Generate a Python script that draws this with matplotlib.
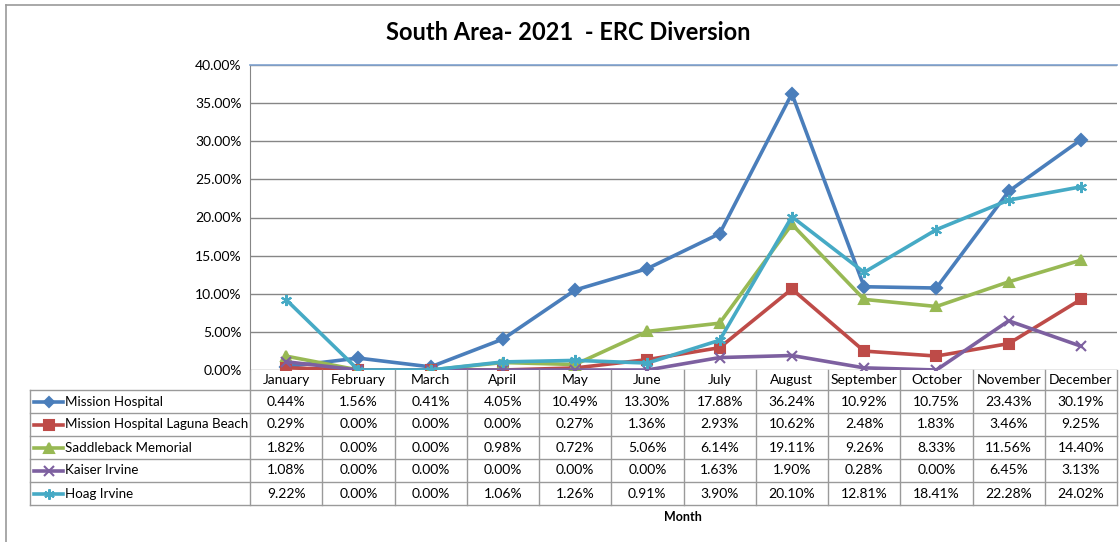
import matplotlib
matplotlib.use("Agg")
import matplotlib.pyplot as plt
from matplotlib.transforms import blended_transform_factory
from matplotlib.lines import Line2D

plt.rcParams['font.family'] = ['Lato', 'DejaVu Sans']

months = ["January", "February", "March", "April", "May", "June", "July",
          "August", "September", "October", "November", "December"]
series_names = ["Mission Hospital", "Mission Hospital Laguna Beach",
                "Saddleback Memorial", "Kaiser Irvine", "Hoag Irvine"]
mission = [0.44, 1.56, 0.41, 4.05, 10.49, 13.30, 17.88, 36.24, 10.92, 10.75, 23.43, 30.19]
laguna = [0.29, 0.00, 0.00, 0.00, 0.27, 1.36, 2.93, 10.62, 2.48, 1.83, 3.46, 9.25]
saddleback = [1.82, 0.00, 0.00, 0.98, 0.72, 5.06, 6.14, 19.11, 9.26, 8.33, 11.56, 14.40]
kaiser = [1.08, 0.00, 0.00, 0.00, 0.00, 0.00, 1.63, 1.90, 0.28, 0.00, 6.45, 3.13]
hoag = [9.22, 0.00, 0.00, 1.06, 1.26, 0.91, 3.90, 20.10, 12.81, 18.41, 22.28, 24.02]
yticks = [0, 5, 10, 15, 20, 25, 30, 35, 40]

values = [mission, laguna, saddleback, kaiser, hoag]
colors = ["#4A7EBB", "#BE4B48", "#98B954", "#7D60A0", "#46AAC5"]
markers = ["D", "s", "^", "x", (6, 2, 0)]
msizes = [6, 7, 7, 7, 8]

W, H = 1120, 542
fig = plt.figure(figsize=(W / 100, H / 100), dpi=100)

def fx(px):
    return px / W

def fy(py):
    return 1 - py / H

L, R, T, B = 250, 1117, 65, 370
ax = fig.add_axes([fx(L), fy(B), fx(R) - fx(L), fy(T) - fy(B)])
ax.set_xlim(-0.5, len(months) - 0.5)
ax.set_ylim(0, 40)

for v, c, m, ms in zip(values, colors, markers, msizes):
    ax.plot(range(len(months)), v, color=c, lw=2.6, marker=m, ms=ms,
            mec=c, mfc=c, mew=1.5, solid_joinstyle='round', zorder=3)

ax.set_yticks(yticks)
ax.set_yticklabels([f"{t:.2f}%" for t in yticks], fontsize=10)
ax.yaxis.grid(True, color="#868686", lw=1)
ax.set_axisbelow(True)
ax.set_xticks([])
for s in ["right", "bottom"]:
    ax.spines[s].set_visible(False)
ax.spines["top"].set_color("#7FA2D0")
ax.spines["top"].set_linewidth(1.2)
ax.spines["left"].set_color("#868686")
ax.tick_params(axis='y', length=0, pad=6, colors="#000000")

# Table
bt = blended_transform_factory(ax.transData, fig.transFigure)
ft = fig.transFigure
gray = "#9A9A9A"
hdr_top, hdr_bot = 370, 390
row_h = 23
n = len(series_names)
tbl_bot = hdr_bot + n * row_h
leg_left = 30

for i in range(len(months) + 1):
    x = i - 0.5
    fig.add_artist(Line2D([x, x], [fy(hdr_top), fy(tbl_bot)], transform=bt,
                          color=gray, lw=1))
for r in range(n + 1):
    y = fy(hdr_bot + r * row_h)
    fig.add_artist(Line2D([fx(leg_left), fx(R)], [y, y], transform=ft,
                          color=gray, lw=1))
fig.add_artist(Line2D([fx(leg_left), fx(leg_left)], [fy(hdr_bot), fy(tbl_bot)],
                      transform=ft, color=gray, lw=1))

for i, mth in enumerate(months):
    fig.text(i, fy((hdr_top + hdr_bot) / 2), mth, transform=bt, ha='center',
             va='center', fontsize=10)

for r, (name, v, c, m, ms) in enumerate(zip(series_names, values, colors, markers, msizes)):
    yc = fy(hdr_bot + r * row_h + row_h / 2)
    fig.add_artist(Line2D([fx(34), fx(63)], [yc, yc], transform=ft, color=c,
                          lw=2.6))
    fig.add_artist(Line2D([fx(48.5)], [yc], transform=ft, color=c, marker=m,
                          ms=ms - 0.5, mfc=c, mec=c, mew=1.5, lw=0))
    fig.text(fx(65), yc, name, transform=ft, ha='left', va='center', fontsize=9.6)
    for i, val in enumerate(v):
        fig.text(i, yc, f"{val:.2f}%", transform=bt, ha='center', va='center',
                 fontsize=10)

fig.text(fx(683), fy(517), "Month", ha='center', va='center', fontsize=9,
         fontweight='bold')
fig.text(fx(568), fy(32), "South Area- 2021  - ERC Diversion", ha='center',
         va='center', fontsize=17, fontweight='bold')

# outer border (top and left edges visible)
fig.add_artist(Line2D([fx(6), fx(1120)], [fy(4.5), fy(4.5)], transform=ft,
                      color="#9A9A9A", lw=1.2))
fig.add_artist(Line2D([fx(6), fx(6)], [fy(4.5), fy(542)], transform=ft,
                      color="#9A9A9A", lw=1.2))

fig.savefig("out.png", dpi=100)
